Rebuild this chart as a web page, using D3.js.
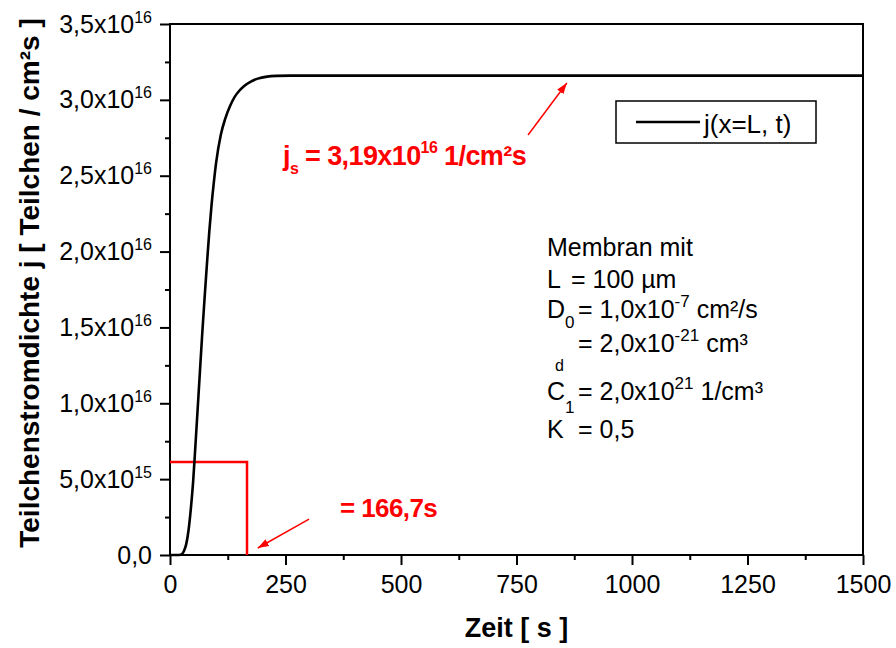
<!DOCTYPE html>
<html>
<head>
<meta charset="utf-8">
<script src="https://cdn.jsdelivr.net/npm/d3@7"></script>
<style>
  body { margin: 0; background: #fff; }
  svg { display: block; }
</style>
</head>
<body>
<div id="chart"></div>
<script>
// Data
const timeS = [0, 20, 25, 30, 35, 40, 45, 50, 55, 60, 65, 70, 75, 80, 85, 90, 95, 100, 110, 120, 130,
    140, 150, 160, 175, 190, 210, 230, 260, 400, 800, 1200, 1500];
const flux = [0, 0, 0.004e16, 0.025e16, 0.07e16, 0.16e16, 0.3e16, 0.48e16, 0.72e16, 0.97e16, 1.22e16,
    1.47e16, 1.7e16, 1.92e16, 2.13e16, 2.31e16, 2.46e16, 2.59e16, 2.77e16, 2.88e16, 2.96e16, 3.02e16,
    3.06e16, 3.09e16, 3.12e16, 3.14e16, 3.153e16, 3.158e16, 3.16e16, 3.16e16, 3.16e16, 3.16e16, 3.16e16];
const tauTime = 166.7;
const tauLevel = 6.13e15;
const xTicks = [0, 250, 500, 750, 1000, 1250, 1500];
const yTicks = [0, 5e15, 1e16, 1.5e16, 2e16, 2.5e16, 3e16, 3.5e16];
const yTickLabels = [["0,0", ""], ["5,0x10", "15"], ["1,0x10", "16"], ["1,5x10", "16"],
    ["2,0x10", "16"], ["2,5x10", "16"], ["3,0x10", "16"], ["3,5x10", "16"]];
const legendLabel = "j(x=L, t)";

const width = 896;
const height = 648;
const marginTop = 24;
const marginRight = 33;
const marginBottom = 93;
const marginLeft = 170;
const font = "'Liberation Sans', Arial, sans-serif";

const svg = d3.select("#chart").append("svg")
    .attr("width", width)
    .attr("height", height)
    .attr("viewBox", [0, 0, width, height])
    .style("font-family", font);

const x = d3.scaleLinear()
    .domain([0, 1500])
    .range([marginLeft, width - marginRight]);

const y = d3.scaleLinear()
    .domain([0, 3.5e16])
    .range([height - marginBottom, marginTop]);

// Minor ticks
svg.append("g")
    .attr("transform", `translate(0,${height - marginBottom})`)
    .call(d3.axisBottom(x).tickValues(d3.range(125, 1500, 250)).tickSize(5).tickFormat(""))
    .call(g => g.select(".domain").remove())
    .call(g => g.selectAll("line").attr("stroke-width", 2));

svg.append("g")
    .attr("transform", `translate(${marginLeft},0)`)
    .call(d3.axisLeft(y).tickValues(d3.range(2.5e15, 3.5e16, 5e15)).tickSize(5).tickFormat(""))
    .call(g => g.select(".domain").remove())
    .call(g => g.selectAll("line").attr("stroke-width", 2));

// Major axes
svg.append("g")
    .attr("transform", `translate(0,${height - marginBottom})`)
    .call(d3.axisBottom(x).tickValues(xTicks).tickSize(10).tickPadding(10).tickFormat(d => d))
    .call(g => g.select(".domain").remove())
    .call(g => g.selectAll("line").attr("stroke-width", 2))
    .call(g => g.selectAll("text").attr("font-size", 25).attr("font-family", font).attr("fill", "#000"));

svg.append("g")
    .attr("transform", `translate(${marginLeft},0)`)
    .call(d3.axisLeft(y).tickValues(yTicks).tickSize(10).tickPadding(8).tickFormat((d, i) => yTickLabels[i][0]))
    .call(g => g.select(".domain").remove())
    .call(g => g.selectAll("line").attr("stroke-width", 2))
    .call(g => g.selectAll("text")
        .attr("font-size", 25).attr("font-family", font).attr("fill", "#000")
        .each(function (d, i) {
            if (yTickLabels[i][1]) {
                d3.select(this).append("tspan")
                    .attr("font-size", 16)
                    .attr("dy", -10)
                    .text(yTickLabels[i][1]);
            }
        }));

// Frame
svg.append("rect")
    .attr("x", marginLeft)
    .attr("y", marginTop)
    .attr("width", width - marginLeft - marginRight)
    .attr("height", height - marginTop - marginBottom)
    .attr("fill", "none")
    .attr("stroke", "#000")
    .attr("stroke-width", 2);

// Axis titles
svg.append("text")
    .attr("x", (marginLeft + width - marginRight) / 2)
    .attr("y", 637)
    .attr("text-anchor", "middle")
    .attr("font-size", 27)
    .attr("font-weight", "bold")
    .text("Zeit [ s ]");

svg.append("text")
    .attr("transform", "translate(39,283) rotate(-90)")
    .attr("text-anchor", "middle")
    .attr("font-size", 28)
    .attr("font-weight", "bold")
    .text("Teilchenstromdichte j [ Teilchen / cm²s ]");

// Time lag lines
svg.append("path")
    .datum([[0, tauLevel], [tauTime, tauLevel], [tauTime, 0]])
    .attr("fill", "none")
    .attr("stroke", "#ff0000")
    .attr("stroke-width", 2.5)
    .attr("d", d3.line().x(d => x(d[0])).y(d => y(d[1])));

// Flux curve
svg.append("path")
    .datum(timeS.map((t, i) => [t, flux[i]]))
    .attr("fill", "none")
    .attr("stroke", "#000")
    .attr("stroke-width", 2.6)
    .attr("d", d3.line().curve(d3.curveMonotoneX).x(d => x(d[0])).y(d => y(d[1])));

// Arrows
svg.append("defs").append("marker")
    .attr("id", "arrow")
    .attr("viewBox", "0 -5 10 10")
    .attr("refX", 10)
    .attr("refY", 0)
    .attr("markerWidth", 11)
    .attr("markerHeight", 11)
    .attr("markerUnits", "userSpaceOnUse")
    .attr("orient", "auto")
    .append("path")
    .attr("d", "M0,-3.5L10,0L0,3.5Z")
    .attr("fill", "#ff0000");

const arrows = [
    [[301, 0.237e16], [190, 0.046e16]],
    [[775, 2.768e16], [859, 3.111e16]]
];
svg.append("g")
    .selectAll("line")
    .data(arrows)
    .join("line")
    .attr("x1", d => x(d[0][0]))
    .attr("y1", d => y(d[0][1]))
    .attr("x2", d => x(d[1][0]))
    .attr("y2", d => y(d[1][1]))
    .attr("stroke", "#ff0000")
    .attr("stroke-width", 1.5)
    .attr("marker-end", "url(#arrow)");

// Red annotations
const js = svg.append("text")
    .attr("x", 283)
    .attr("y", 165)
    .attr("fill", "#ff0000")
    .attr("font-weight", "bold")
    .attr("font-size", 27)
    .attr("letter-spacing", -0.6);
js.append("tspan").text("j");
js.append("tspan").attr("font-size", 16).attr("dy", 9).text("s");
js.append("tspan").attr("dy", -9).text(" = 3,19x10");
js.append("tspan").attr("font-size", 16).attr("dy", -12).text("16");
js.append("tspan").attr("dy", 12).text(" 1/cm²s");

svg.append("text")
    .attr("x", 340)
    .attr("y", 517)
    .attr("fill", "#ff0000")
    .attr("font-weight", "bold")
    .attr("font-size", 26)
    .attr("letter-spacing", -0.6)
    .text("= 166,7s");

// Legend
const legend = svg.append("g");
legend.append("rect")
    .attr("x", 616).attr("y", 101)
    .attr("width", 200).attr("height", 42)
    .attr("fill", "#fff")
    .attr("stroke", "#000")
    .attr("stroke-width", 1.5);
legend.append("line")
    .attr("x1", 636).attr("x2", 700)
    .attr("y1", 122).attr("y2", 122)
    .attr("stroke", "#000")
    .attr("stroke-width", 2.6);
legend.append("text")
    .attr("x", 704).attr("y", 133)
    .attr("font-size", 26)
    .text(legendLabel);

// Parameter block
const params = svg.append("g").attr("font-size", 25);
const lx = 547, ex = 578;
params.append("text").attr("x", lx).attr("y", 256).text("Membran mit");

const l1 = params.append("text").attr("y", 288);
l1.append("tspan").attr("x", lx).text("L");
l1.append("tspan").attr("x", 571).text("= 100 µm");

const l2 = params.append("text").attr("y", 318);
l2.append("tspan").attr("x", lx).text("D");
l2.append("tspan").attr("font-size", 17).attr("dy", 10).text("0");
l2.append("tspan").attr("x", ex).attr("dy", -10).text("= 1,0x10");
l2.append("tspan").attr("font-size", 17).attr("dy", -11).text("-7");
l2.append("tspan").attr("dy", 11).text(" cm²/s");

const l3 = params.append("text").attr("y", 352);
l3.append("tspan").attr("x", ex).text("= 2,0x10");
l3.append("tspan").attr("font-size", 17).attr("dy", -11).text("-21");
l3.append("tspan").attr("dy", 11).text(" cm³");
params.append("text")
    .attr("x", 555).attr("y", 371)
    .attr("font-size", 16)
    .text("d");

const l4 = params.append("text").attr("y", 400);
l4.append("tspan").attr("x", lx).text("C");
l4.append("tspan").attr("font-size", 17).attr("dy", 13).text("1");
l4.append("tspan").attr("x", ex).attr("dy", -13).text("= 2,0x10");
l4.append("tspan").attr("font-size", 17).attr("dy", -11).text("21");
l4.append("tspan").attr("dy", 11).text(" 1/cm³");

const l5 = params.append("text").attr("y", 438);
l5.append("tspan").attr("x", lx).text("K");
l5.append("tspan").attr("x", ex).text("= 0,5");
</script>
</body>
</html>
